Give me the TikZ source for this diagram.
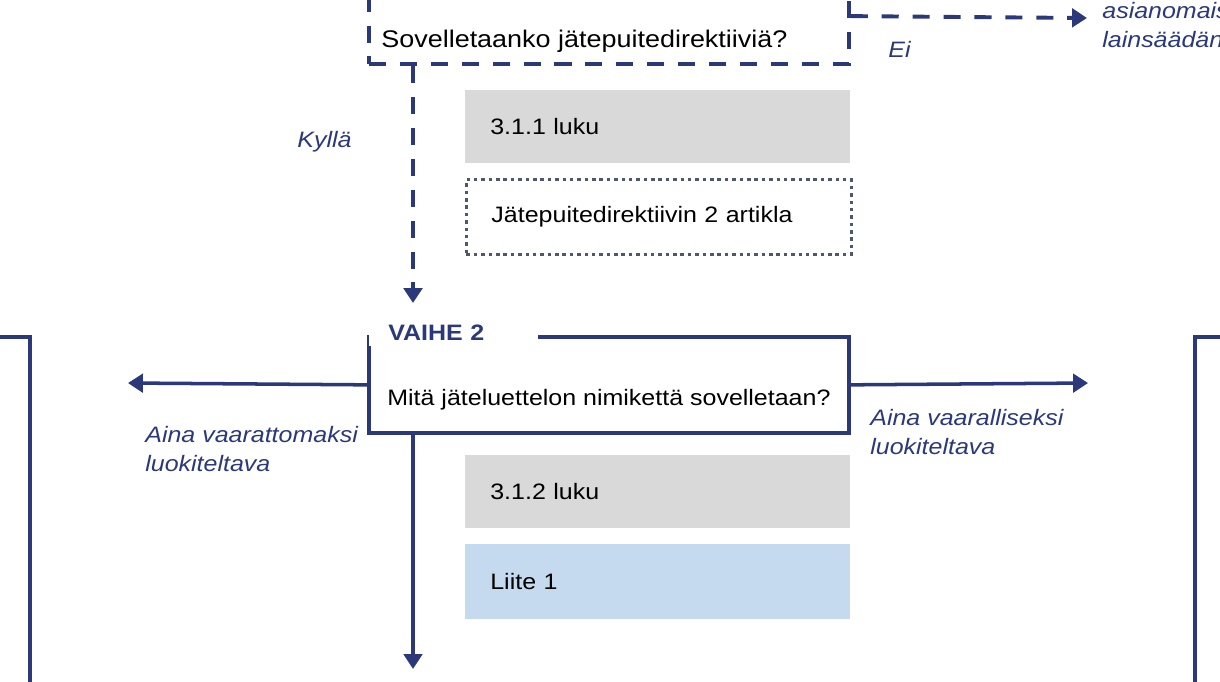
\documentclass[tikz,border=0pt]{standalone}
\usepackage{fontspec}
\setmainfont{Liberation Sans}[FakeStretch=1.12]
\usetikzlibrary{arrows.meta}
\definecolor{navy}{RGB}{43,57,122}
\definecolor{boxgrey}{RGB}{217,217,217}
\definecolor{liiteblue}{RGB}{197,218,238}
\definecolor{dotgrey}{RGB}{78,88,108}
\tikzset{
  every node/.style={font=\fontsize{12.7}{16.3}\selectfont},
  frame/.style={draw=navy, line width=2.1pt, minimum width=9.6cm, minimum height=1.92cm, inner sep=0pt},
  dashframe/.style={frame, line width=2.2pt, dash pattern=on 9.7pt off 7.9pt},
  side/.style={draw=navy, line width=2.1pt, minimum width=12cm, minimum height=10cm},
  greybox/.style={fill=boxgrey, minimum height=1.46cm, text width=6.7cm, inner xsep=0.5cm, align=left},
  dotbox/.style={greybox, fill=none, draw=dotgrey, line width=1.7pt, dash pattern=on 2pt off 2.2pt, minimum height=1.5cm},
  qtext/.style={anchor=base west, inner sep=0pt},
  stage/.style={anchor=base west, fill=white, text=navy, font=\fontsize{12.7}{16.3}\selectfont\bfseries, text width=2.62cm, inner xsep=0.38cm, align=left},
  lab/.style={anchor=north west, inner sep=0pt, align=left, text=navy, font=\fontsize{12.7}{16.3}\selectfont\itshape},
  flow/.style={draw=navy, line width=2pt, -{Triangle[width=10.5pt,length=8.5pt]}},
  dashflow/.style={flow, line width=2.2pt, dash pattern=on 9.7pt off 7.9pt}
}
\begin{document}
\begin{tikzpicture}[x=0.02cm,y=-0.02cm]
\useasboundingbox (0,0) rectangle (1220,681);
\clip (0,0) rectangle (1220,681);

\node[dashframe, anchor=south west] (q1) at (367,66) {};
\node[qtext, font=\fontsize{13.7}{16.3}\selectfont] (q1t) at (381,47) {Sovelletaanko jätepuitedirektiiviä?};
\node[greybox, anchor=north west] (luku311) at (465,90) {3.1.1 luku};
\node[dotbox, anchor=north west] (art2) at (465,178) {Jätepuitedirektiivin 2 artikla};

\node[frame, anchor=north west] (v2) at (367,335) {};
\node[stage] (v2h) at (369,340) {VAIHE 2};
\node[qtext] (v2t) at (387,405) {Mitä jäteluettelon nimikettä sovelletaan?};
\node[greybox, anchor=north west] (luku312) at (465,455) {3.1.2 luku};
\node[greybox, fill=liiteblue, minimum height=1.5cm, anchor=north west] (liite) at (465,544) {Liite 1};

\node[side, anchor=north east] (v3l) at (32,335) {};
\node[side, anchor=north west] (v3r) at (1193,335) {};

\coordinate (kyl) at (413,303);
\coordinate (ei) at (1087,18);
\coordinate (vl) at (128,383);
\coordinate (vr) at (1088,383);
\coordinate (vd) at (413,669);

\draw[dashflow] (q1.south -| kyl) -- (kyl);
\draw[dashflow] (q1.east) -- (ei);
\draw[flow] (v2.west) -- (vl);
\draw[flow] (v2.east) -- (vr);
\draw[flow] (v2.south -| vd) -- (vd);

\node[lab] (kylla) at (297,131) {Kyllä};
\node[lab] (eilab) at (888,41) {Ei};
\node[lab] (asia) at (1102,2) {asianomais\\lainsäädän};
\node[lab] (vaar0) at (145,426) {Aina vaarattomaksi\\luokiteltava};
\node[lab] (vaar1) at (870,409) {Aina vaaralliseksi\\luokiteltava};
\end{tikzpicture}
\end{document}
